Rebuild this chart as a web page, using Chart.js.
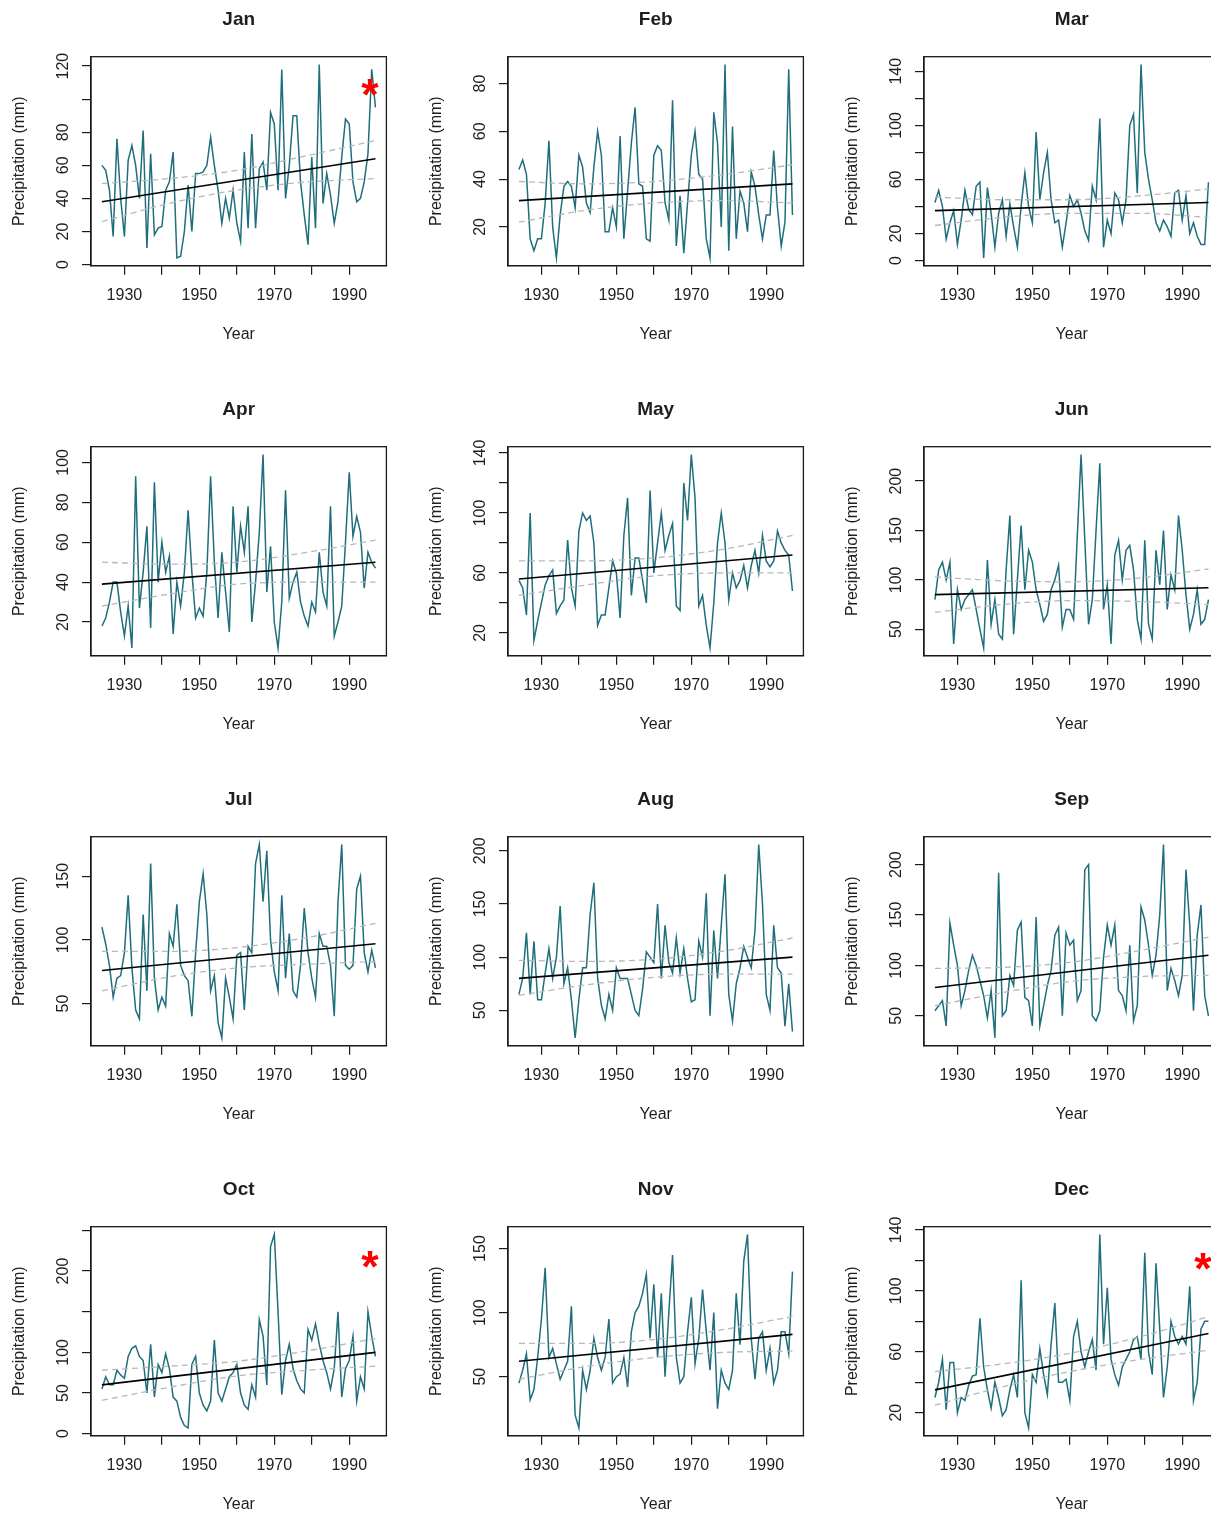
<!DOCTYPE html>
<html><head><meta charset="utf-8">
<script src="https://cdn.jsdelivr.net/npm/chart.js@4.4.1/dist/chart.umd.min.js"></script>
<style>
html,body{margin:0;padding:0;background:#fff;overflow:hidden;width:1211px;height:1514px;position:relative;}
canvas{position:absolute;}
</style></head><body>
<script>
// ---------------- data ----------------
const months = ['Jan','Feb','Mar','Apr','May','Jun','Jul','Aug','Sep','Oct','Nov','Dec'];
const firstYear = 1924, lastYear = 1997;

const janPrecip = [60,57,45,17,76,40,17,63,72,60, 40,81,10,67,18,22,23,45,50,68, 4,5,20,48,20,55,55,56,60,77, 60,45,25,40,28,45,25,14,68,22, 79,22,58,62,45,92,85,45,118,40, 60,90,90,50,30,12,65,22,121,37, 55,42,25,38,65,88,85,50,38,40, 50,67,118,95];
const febPrecip = [44,48,42,15,10,15,15,30,56,20, 7,25,37,39,37,28,50,45,30,26, 45,60,50,18,18,28,20,58,15,35, 55,70,38,37,15,14,50,54,52,30, 23,73,12,33,9,30,50,60,42,40, 15,7,68,55,20,88,10,62,15,35, 30,18,43,37,25,15,25,25,52,28, 12,22,86,25];
const marPrecip = [43,52,40,16,28,37,12,30,52,38, 34,55,58,2,54,35,10,35,45,18, 42,25,10,40,65,40,28,95,45,65, 80,45,28,30,10,28,48,40,45,35, 22,15,55,45,105,10,30,20,50,45, 28,45,100,108,50,145,80,60,45,28, 22,30,25,18,50,52,30,48,20,28, 18,12,12,58];
const aprPrecip = [18,22,30,40,40,25,13,28,7,93, 27,45,68,17,90,40,60,45,53,14, 40,28,45,76,45,22,27,23,45,93, 50,22,55,35,15,78,45,68,55,78, 20,40,65,104,35,58,20,7,30,86, 32,40,45,30,23,18,30,25,55,35, 28,78,13,20,28,60,95,63,73,65, 37,55,50,47];
const mayPrecip = [55,50,32,100,15,28,40,52,58,62, 33,38,42,82,50,38,88,100,95,98, 80,25,32,32,50,68,60,30,85,110, 45,70,70,55,40,115,60,80,100,75, 85,93,38,35,120,95,139,110,38,45, 25,10,40,80,100,80,42,60,50,55, 65,50,65,75,60,85,68,64,68,88, 80,75,72,48];
const junPrecip = [80,110,118,100,118,35,90,70,80,85, 90,70,50,31,120,55,80,45,40,110, 165,45,100,155,90,130,118,90,75,58, 65,90,100,115,52,70,70,60,145,227, 140,55,80,150,218,70,95,35,125,140, 100,130,135,110,60,40,140,55,40,130, 95,150,70,105,90,165,130,85,50,65, 90,55,60,80];
const julPrecip = [110,97,80,55,70,72,90,135,78,45, 38,120,60,160,70,45,55,48,105,95, 128,80,72,68,40,90,130,152,120,60, 72,35,23,70,55,38,88,90,45,95, 90,160,175,130,170,100,75,60,135,70, 105,60,55,80,125,90,70,55,105,95, 95,80,40,130,175,80,77,80,140,150, 90,75,92,78];
const augPrecip = [65,80,123,65,115,60,60,85,108,80, 100,148,75,90,60,24,60,90,90,140, 170,80,55,42,65,50,90,80,80,80, 65,50,45,70,105,100,95,150,80,130, 95,85,118,85,108,80,58,60,115,100, 160,45,125,80,130,178,65,40,75,90, 110,100,90,125,206,150,65,50,130,90, 85,35,75,30];
const sepPrecip = [55,60,65,40,142,120,100,60,75,95, 110,100,85,70,48,75,28,192,50,55, 90,80,135,143,68,65,40,148,40,60, 80,95,130,138,50,132,120,125,65,75, 195,200,50,45,55,108,140,120,140,75, 70,55,120,45,60,158,145,120,90,110, 150,220,75,97,85,70,90,195,140,55, 130,160,70,50];
const octPrecip = [55,70,60,60,78,72,68,95,105,108, 95,90,50,110,45,85,75,98,80,45, 40,20,10,7,85,95,50,35,28,40, 115,50,40,55,70,75,85,50,35,30, 60,45,140,120,60,230,245,150,48,90, 110,80,65,55,50,128,115,135,110,90, 75,55,80,150,45,80,90,120,40,70, 55,150,120,95];
const novPrecip = [45,55,68,32,40,65,95,135,65,72, 60,48,55,62,105,20,10,55,40,55, 80,65,55,65,95,45,50,52,65,42, 85,100,105,115,130,80,122,65,115,50, 100,145,65,45,50,85,112,60,80,118, 85,55,100,25,55,45,40,55,115,75, 140,161,80,48,80,85,55,72,45,55, 85,85,68,132];
const decPrecip = [30,40,55,22,53,53,20,30,28,38, 44,45,82,50,35,23,40,30,18,22, 35,45,30,107,20,10,45,40,62,45, 32,65,92,40,40,42,28,70,80,60, 50,60,68,48,137,65,102,55,45,38, 50,55,60,68,70,55,125,60,45,118, 75,30,50,80,70,65,70,65,103,28, 40,75,80,80];

// linear trend (value at first and last year)
const trendStart = [38,31,37,39,56,85,76,80,78,60,62,35];
const trendEnd   = [64,38,43,50,72,92,97,100,110,100,83,72];

// confidence band, read at these years
const bandYears = [1924,1942,1960,1979,1997];
const bandUpper = [[49,52,57,66,75],[39,38,39,42,46],[47,45,45,48,53],[50,49,50,55,61],[68,68,70,76,85],[103,99,98,102,111],
                   [91,91,94,102,113],[97,96,98,106,118],[97,98,103,115,128],[78,83,89,102,117],[76,76,79,87,97],[47,52,59,70,83]];
const bandLower = [[26,37,45,50,52],[22,27,30,31,30],[26,32,35,35,32],[28,34,39,40,40],[45,52,58,60,60],[67,75,79,78,75],
                   [60,71,78,81,83],[64,74,81,84,84],[60,73,84,89,90],[41,57,71,78,83],[48,58,65,69,70],[25,37,47,55,61]];

// y tick step and labelled ticks
const yStep = [20,20,20,20,20,50,50,50,50,50,50,20];
const yTickLabels = [[0,20,40,60,80,120],[20,40,60,80],[0,20,60,100,140],[20,40,60,80,100],[20,60,100,140],[50,100,150,200],
                     [50,100,150],[50,100,150,200],[50,100,150,200],[0,50,100,200],[50,100,150],[20,60,100,140]];
const xTickLabels = [1930,1950,1970,1990];

// significance markers (year, value), null = none
const starMarks = [[1995.6,107],null,null,null,null,null,null,null,null,[1995.6,214],null,[1995.6,119]];

const allPrecip = [janPrecip,febPrecip,marPrecip,aprPrecip,mayPrecip,junPrecip,julPrecip,augPrecip,sepPrecip,octPrecip,novPrecip,decPrecip];

// ---------------- layout ----------------
const FONT = "'Liberation Sans', Arial, Helvetica, sans-serif";
const TXT = '#1e1e1e';
const TEAL = '#1f6e7c';
const colLeft = [0, 417, 833], rowTop = [0, 390, 780, 1170];
const W = 416, H = 390;
const BOX_L = 91, BOX_T = 56.7, BOX_H = 209, BOX_W = 295.4;

const rPlugin = {
  id: 'rbox',
  afterDraw(chart, args, opts) {
    const {ctx, chartArea: a} = chart;
    ctx.save();
    ctx.strokeStyle = '#1a1a1a';
    ctx.lineWidth = 1.3;
    ctx.strokeRect(a.left, a.top, a.right - a.left, a.bottom - a.top);
    const ys = chart.scales.y;
    ctx.fillStyle = TXT;
    ctx.font = '16px ' + FONT;
    ctx.textAlign = 'center';
    ctx.textBaseline = 'middle';
    ys.ticks.forEach(t => {
      if (!opts.labels.includes(t.value)) return;
      const py = ys.getPixelForValue(t.value);
      ctx.save();
      ctx.translate(a.left - 27, py);
      ctx.rotate(-Math.PI / 2);
      ctx.fillText(String(t.value), 0, 0);
      ctx.restore();
    });
    if (opts.star) {
      const px = chart.scales.x.getPixelForValue(opts.star[0]);
      const py = ys.getPixelForValue(opts.star[1]);
      ctx.textAlign = 'left';
      ctx.textBaseline = 'alphabetic';
      ctx.font = 'bold 100px ' + FONT;
      let m = ctx.measureText('*');
      const h100 = m.actualBoundingBoxAscent + m.actualBoundingBoxDescent;
      const size = 100 * 17 / h100;
      ctx.font = 'bold ' + size + 'px ' + FONT;
      m = ctx.measureText('*');
      ctx.fillStyle = '#ff0000';
      const dx = px - (m.actualBoundingBoxRight - m.actualBoundingBoxLeft) / 2;
      const dy = py + (m.actualBoundingBoxAscent - m.actualBoundingBoxDescent) / 2;
      ctx.fillText('*', dx, dy);
    }
    ctx.restore();
  }
};

const years = [];
for (let y = firstYear; y <= lastYear; y++) years.push(y);

months.forEach((mon, k) => {
  const vals = allPrecip[k];
  const cv = document.createElement('canvas');
  cv.width = W; cv.height = H;
  cv.style.left = colLeft[k % 3] + 'px';
  cv.style.top = rowTop[Math.floor(k / 3)] + 'px';
  cv.style.width = W + 'px'; cv.style.height = H + 'px';
  document.body.appendChild(cv);

  const xr = lastYear - firstYear;
  const vmin = Math.min(...vals), vmax = Math.max(...vals);
  const yr = vmax - vmin;
  const series = years.map((y, i) => ({x: y, y: vals[i]}));
  const up = bandYears.map((y, i) => ({x: y, y: bandUpper[k][i]}));
  const lo = bandYears.map((y, i) => ({x: y, y: bandLower[k][i]}));
  const tr = [{x: firstYear, y: trendStart[k]}, {x: lastYear, y: trendEnd[k]}];

  const gridOpt = {drawOnChartArea: false, drawTicks: true, tickLength: 9, color: '#1a1a1a', lineWidth: 1.2};
  const borderOpt = {display: true, color: '#1a1a1a', width: 1.3};

  new Chart(cv, {
    type: 'line',
    data: {datasets: [
      {data: up, borderColor: '#b8b8b8', borderWidth: 1.3, borderDash: [6, 4], cubicInterpolationMode: 'monotone', pointRadius: 0, fill: false},
      {data: lo, borderColor: '#b8b8b8', borderWidth: 1.3, borderDash: [6, 4], cubicInterpolationMode: 'monotone', pointRadius: 0, fill: false},
      {data: tr, borderColor: '#000000', borderWidth: 1.6, pointRadius: 0, fill: false},
      {data: series, borderColor: TEAL, borderWidth: 1.5, pointRadius: 0, fill: false, tension: 0}
    ]},
    options: {
      responsive: false, animation: false, devicePixelRatio: 1,
      layout: {autoPadding: false, padding: {left: 0, top: 0, bottom: 0, right: W - BOX_L - BOX_W}},
      plugins: {
        legend: {display: false}, tooltip: {enabled: false},
        title: {display: true, text: mon, fullSize: false, color: TXT,
                font: {family: FONT, size: 19, weight: 'bold'}, padding: {top: 8.6, bottom: BOX_T - 8.6 - 22.8}},
        rbox: {labels: yTickLabels[k], star: starMarks[k]}
      },
      scales: {
        x: {
          type: 'linear', min: firstYear - 0.04 * xr, max: lastYear + 0.04 * xr,
          ticks: {stepSize: 10, includeBounds: false, autoSkip: false, maxRotation: 0, minRotation: 0, padding: 11.5,
                  color: TXT, font: {family: FONT, size: 16},
                  callback: v => xTickLabels.includes(Math.round(v)) ? String(Math.round(v)) : ''},
          grid: gridOpt, border: borderOpt,
          title: {display: true, text: 'Year', color: TXT, font: {family: FONT, size: 16}, padding: {top: 0, bottom: 45.4}},
          afterFit: s => { s.height = H - BOX_T - BOX_H; }
        },
        y: {
          type: 'linear', min: vmin - 0.04 * yr, max: vmax + 0.04 * yr,
          ticks: {stepSize: yStep[k], includeBounds: false, display: false},
          grid: gridOpt, border: borderOpt,
          title: {display: true, text: 'Precipitation (mm)', color: TXT, font: {family: FONT, size: 16}, padding: {top: 10.4, bottom: 0}},
          afterFit: s => { s.width = BOX_L; }
        }
      }
    },
    plugins: [rPlugin]
  });
});
</script>
</body></html>
